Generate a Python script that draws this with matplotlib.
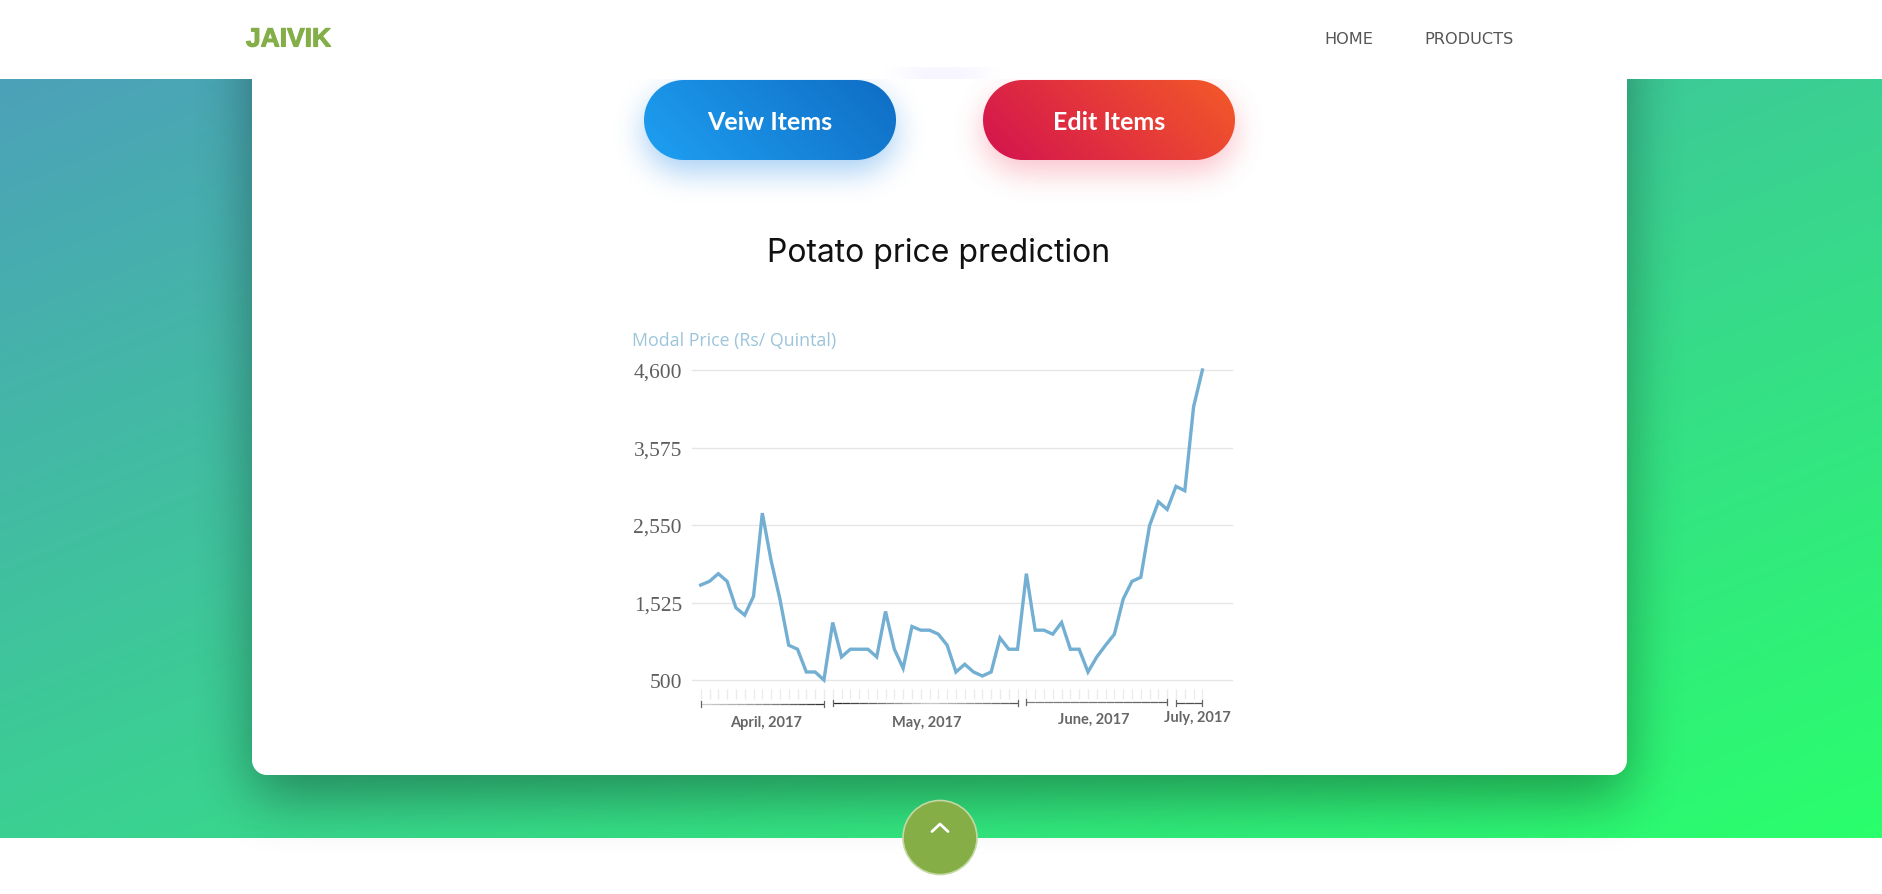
import numpy as np
import matplotlib
matplotlib.use("Agg")
import matplotlib.pyplot as plt
import matplotlib.patheffects as pe
from matplotlib.patches import Circle

W, H = 1882, 895

# modal price per reporting day
modal_price = [1756, 1805, 1906, 1805, 1455, 1358, 1606, 2707, 2079, 1570,
               960, 907, 606, 606, 500,
               1261, 805, 907, 907, 907, 805, 1407, 907, 655, 1208, 1159, 1159,
               1106, 960, 606, 708, 606, 553, 606, 1057, 907, 907,
               1906, 1159, 1159, 1106, 1261, 907, 907, 606, 805, 960, 1106,
               1570, 1805, 1858, 2543, 2857,
               2756, 3061, 3003, 4114, 4600]
y_ticks = [500, 1525, 2550, 3575, 4600]
months = ["April, 2017", "May, 2017", "June, 2017", "July, 2017"]
month_days = [15, 22, 17, 4]
month_label_x = [766, 927, 1094, 1197]
month_label_y = [723, 723, 720, 718]
bracket_y = [705, 704, 703, 704]
# grey level along each bracket, left to right
bracket_shades = [[0.8, 0.55, 0.15], [0.15, 0.8, 0.3], [0.5, 0.45, 0.35], [0.3, 0.3, 0.3]]


def blur(a, sigma):
    # three box passes are close enough to a gaussian
    r = max(1, int(sigma * 1.7 / 2 + 0.5))
    out = a.astype(float)
    for axis in (0, 1):
        for _ in range(3):
            pad = [(0, 0), (0, 0)]
            pad[axis] = (r + 1, r)
            c = np.cumsum(np.pad(out, pad, mode="edge"), axis=axis)
            if axis == 0:
                out = (c[2 * r + 1:, :] - c[:-(2 * r + 1), :]) / (2 * r + 1)
            else:
                out = (c[:, 2 * r + 1:] - c[:, :-(2 * r + 1)]) / (2 * r + 1)
    return out


def roundRectMask(x0, y0, x1, y1, rad):
    # pixel centres, with a one pixel soft edge
    yy, xx = np.mgrid[0:H, 0:W] + 0.5
    dx = np.maximum(np.maximum(x0 + rad - xx, xx - (x1 - rad)), 0)
    dy = np.maximum(np.maximum(y0 + rad - yy, yy - (y1 - rad)), 0)
    return np.clip(rad - np.hypot(dx, dy) + 0.5, 0, 1)


def hexRgb(c):
    return np.array(matplotlib.colors.to_rgb(c))


def layer(ax, mask, color, alpha, z, clip_top=0, clip_bottom=H):
    img = np.zeros((H, W, 4))
    img[..., :3] = hexRgb(color)
    img[..., 3] = mask * alpha
    img[:clip_top, :, 3] = 0
    img[clip_bottom:, :, 3] = 0
    ax.imshow(img, extent=(0, W, H, 0), aspect="auto", zorder=z, interpolation="nearest")


def gradientPill(ax, x0, y0, x1, y1, start, end):
    w, h = x1 - x0, y1 - y0
    yy, xx = np.mgrid[0:H, 0:W]
    t = np.clip(0.5 + ((xx - x0 - w / 2) - (yy - y0 - h / 2)) / (w + h), 0, 1)
    img = np.zeros((H, W, 4))
    img[..., :3] = hexRgb(start) + t[..., None] * (hexRgb(end) - hexRgb(start))
    img[..., 3] = roundRectMask(x0, y0, x1, y1, 40)
    ax.imshow(img, extent=(0, W, H, 0), aspect="auto", zorder=4, interpolation="nearest")


fig = plt.figure(figsize=(W / 100, H / 100), dpi=100, facecolor="white")

# page layer, in pixel coordinates
bg = fig.add_axes([0, 0, 1, 1])
bg.set_axis_off()

# section gradient
band_top, band_bottom = 80, 839
yy, xx = np.mgrid[band_top:band_bottom, 0:W]
t = 0.5 * ((xx / W) + (yy - band_top) / (band_bottom - band_top))
grad = hexRgb("#4ca1b9") + t[..., None] * (hexRgb("#2aff6c") - hexRgb("#4ca1b9"))
bg.imshow(grad, extent=(0, W, band_bottom, band_top), aspect="auto", zorder=1)

# card and its shadow, which also falls on the white page below the section
layer(bg, blur(roundRectMask(252, 20, 1627, 798, 16), 30), "#000000", 0.36, 2, band_top)
layer(bg, roundRectMask(252, 20, 1627, 776, 15), "#ffffff", 1, 3)

# nav bar
bg.fill_between([0, W], 0, band_top, color="white", lw=0, zorder=3.5)

# glow showing through the nav bar
glow = np.zeros((H, W))
glow[55:110, 905:980] = 1
layer(bg, blur(glow, 14), "#a58cff", 0.09, 3.6, 68, band_top)

# buttons
layer(bg, blur(roundRectMask(644, 93, 896, 173, 40), 17), "#2d8fe8", 0.42, 3.7, band_top)
layer(bg, blur(roundRectMask(983, 93, 1235, 173, 40), 17), "#f0405c", 0.32, 3.7, band_top)
gradientPill(bg, 644, 81, 896, 161, "#1ea0f2", "#0f6cc4")
gradientPill(bg, 983, 81, 1235, 161, "#d3124f", "#f45a28")
bg.text(770, 122, "Veiw Items", color="white", fontsize=18, fontweight="bold", family="Lato",
        ha="center", va="center", zorder=5)
bg.text(1109, 122, "Edit Items", color="white", fontsize=18, fontweight="bold", family="Lato",
        ha="center", va="center", zorder=5)

bg.text(939, 253.5, "Potato price prediction", color="#111111", fontsize=23, family="Inter",
        ha="center", va="center", zorder=5)

# nav text
bg.text(246, 40.5, "JAIVIK", color="#84ae47", fontsize=19, fontweight="bold",
        family="Liberation Sans", ha="left", va="center", zorder=5,
        path_effects=[pe.withStroke(linewidth=0.8, foreground="#84ae47")])
bg.text(1324, 39.5, "HOME", color="#555555", fontsize=11.6, family="DejaVu Sans",
        ha="left", va="center", zorder=5)
bg.text(1424, 39.5, "PRODUCTS", color="#555555", fontsize=11.6, family="DejaVu Sans",
        ha="left", va="center", zorder=5)

# scroll-to-top button
bg.add_patch(Circle((940, 838.5), 37, fc="#85ae47", ec="#c4d8a4", lw=1.2, zorder=6))
bg.plot([932, 940, 948], [832.5, 825, 832.5], color="white", lw=2, zorder=7,
        solid_capstyle="round")

# month captions, series title
bg.text(632, 341, "Modal Price (Rs/ Quintal)", color="#9cc4da", fontsize=12.8, family="Open Sans",
        ha="left", va="center", zorder=5)
for label, lx, ly in zip(months, month_label_x, month_label_y):
    bg.text(lx, ly, label, color="#666666", fontsize=10.5, family="Lato", fontweight="bold",
            ha="center", va="center", zorder=5)

bg.set_xlim(0, W)
bg.set_ylim(H, 0)

# price chart
left, right, top, bottom = 691.7, 1231.7, 371, 681
ax = fig.add_axes([left / W, 1 - bottom / H, (right - left) / W, (bottom - top) / H])
ax.patch.set_alpha(0)
days = np.arange(len(modal_price))
step = (1202.4 - 700.7) / (len(days) - 1)
ax.set_xlim(-(700.7 - left) / step, days[-1] + (right - 1202.4) / step)
ax.set_ylim(500, 4600)

ax.plot(days, modal_price, color="#72afd2", lw=2.4, clip_on=False, solid_joinstyle="miter", zorder=3)

ax.set_yticks(y_ticks)
ax.set_yticklabels(["{:,}".format(v) for v in y_ticks], family="Liberation Serif", fontsize=15.5,
                   color="#5f5f5f")
ax.tick_params(axis="y", length=0, pad=7)
ax.grid(axis="y", color="#e6e6e6", lw=1, clip_on=False)
ax.set_axisbelow(True)

ax.set_xticks(days)
ax.set_xticklabels([])
ax.tick_params(axis="x", length=7.2, width=1, color="#ebebeb")
for name in ("top", "left", "right"):
    ax.spines[name].set_visible(False)
ax.spines["bottom"].set_position(("outward", 6.5))
ax.spines["bottom"].set_visible(False)

# month brackets under the ticks
trans = ax.get_xaxis_transform()
first = 0
for n, by, shades in zip(month_days, bracket_y, bracket_shades):
    last = first + n - 1
    yf = (bottom - by) / (bottom - top)
    cap = 3 / (bottom - top)
    levels = np.interp(np.arange(first, last), np.linspace(first, last, len(shades)), shades)
    for d, g in zip(range(first, last), levels):
        ax.plot([d, d + 1], [yf, yf], transform=trans, color=str(g), lw=0.9, clip_on=False,
                solid_capstyle="butt")
    for d in (first, last):
        ax.plot([d, d], [yf - cap, yf + cap], transform=trans, color="#666666", lw=0.9, clip_on=False)
    first = last + 1

fig.savefig("out.png", dpi=100)
